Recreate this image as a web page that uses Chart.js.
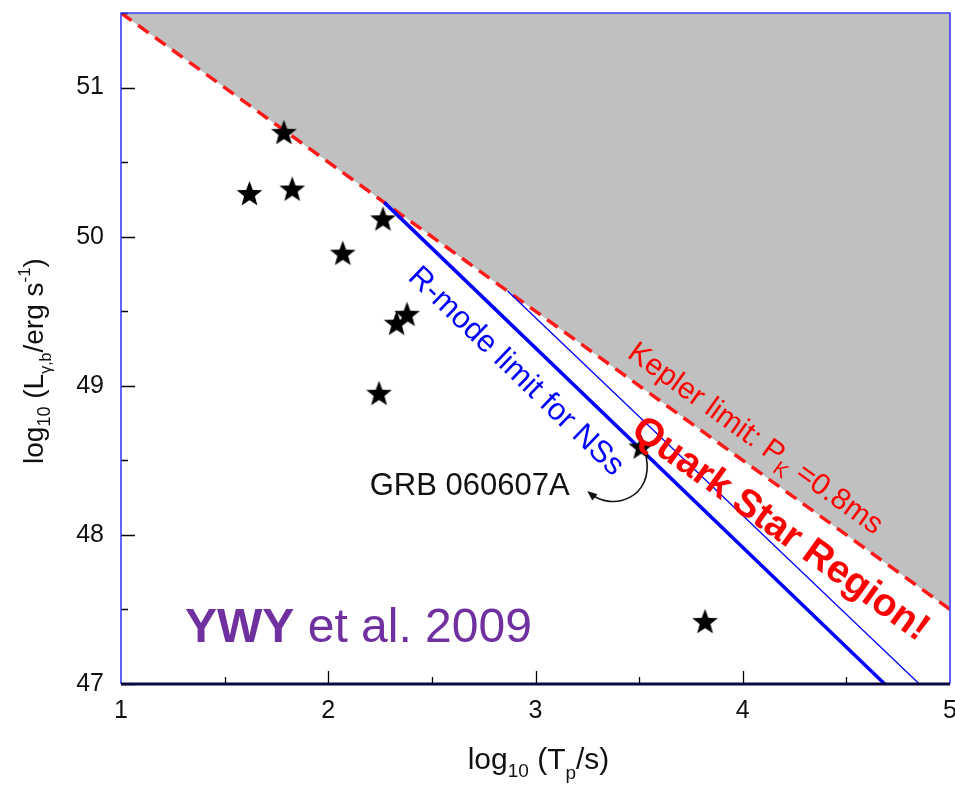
<!DOCTYPE html>
<html>
<head>
<meta charset="utf-8">
<title>Quark star region</title>
<script src="https://cdn.jsdelivr.net/npm/chart.js@4/dist/chart.umd.min.js"></script>
<style>
  html, body { margin: 0; padding: 0; background: #fff; overflow: hidden; }
  #chart { display: block; }
</style>
</head>
<body>
<canvas id="chart" width="955" height="786"></canvas>
<script>
// GRB points (log10 Tp, log10 L)
const starX = [1.62, 1.786, 1.826, 2.07, 2.264, 2.38, 2.33, 2.245, 3.51, 3.818];
const starY = [50.29, 50.70, 50.32, 49.89, 50.12, 49.48, 49.42, 48.95, 48.59, 47.42];

// Kepler limit P_K = 0.8 ms
const keplerX = [1, 5];
const keplerY = [51.5, 47.5];

// R-mode limits for NSs (thick and thin)
const rmodeX = [2.27, 4.685];
const rmodeY = [50.23, 47];
const rmodeThinX = [2.865, 4.852];
const rmodeThinY = [49.635, 47];

const xTicks = [1, 2, 3, 4, 5];
const yTicks = [47, 48, 49, 50, 51];

const FONT = '"Liberation Sans", Arial, sans-serif';

const pts = (xs, ys) => xs.map((x, i) => ({ x: x, y: ys[i] }));

// filled five point star used as the marker
function makeStar(r) {
    const c = document.createElement('canvas');
    c.width = c.height = Math.ceil(r * 2 + 2);
    const g = c.getContext('2d');
    const cx = c.width / 2, cy = c.height / 2 + 1;
    g.beginPath();
    for (let i = 0; i < 10; i++) {
        const rr = i % 2 === 0 ? r : r * 0.42;
        const a = -Math.PI / 2 + i * Math.PI / 5;
        g.lineTo(cx + rr * Math.cos(a), cy + rr * Math.sin(a));
    }
    g.closePath();
    g.fillStyle = '#000';
    g.fill();
    return c;
}

// draw text made of pieces (subscripts etc.), rotated around (x, y)
function drawRich(ctx, parts, x, y, angle, align, color) {
    ctx.save();
    ctx.translate(x, y);
    ctx.rotate(angle);
    ctx.fillStyle = color;
    ctx.textBaseline = 'alphabetic';
    let w = 0;
    parts.forEach(p => {
        ctx.font = (p.bold ? 'bold ' : '') + p.size + 'px ' + FONT;
        p.w = ctx.measureText(p.t).width;
        w += p.w;
    });
    let cx = align === 'center' ? -w / 2 : 0;
    parts.forEach(p => {
        ctx.font = (p.bold ? 'bold ' : '') + p.size + 'px ' + FONT;
        ctx.fillText(p.t, cx, p.dy || 0);
        cx += p.w;
    });
    ctx.restore();
}

const decor = {
    id: 'decor',
    afterDatasetsDraw(chart) {
        const ctx = chart.ctx;
        const X = chart.scales.x, Y = chart.scales.y;
        const px = v => X.getPixelForValue(v);
        const py = v => Y.getPixelForValue(v);
        const ang = (xs, ys) => Math.atan2(py(ys[1]) - py(ys[0]), px(xs[1]) - px(xs[0]));

        // R-mode label
        drawRich(ctx, [{ t: 'R-mode limit for NSs', size: 31, dy: 11 }],
            px(2.913), py(49.107), ang(rmodeX, rmodeY), 'center', '#0000ff');

        // Kepler label
        drawRich(ctx, [
            { t: 'Kepler limit: P', size: 30, dy: 10 },
            { t: 'K', size: 20, dy: 18 },
            { t: ' =0.8ms', size: 30, dy: 10 }
        ], px(4.064), py(48.651), ang(keplerX, keplerY), 'center', '#ff0000');

        // Quark star region
        drawRich(ctx, [{ t: 'Quark Star Region!', size: 39, bold: true, dy: 14 }],
            px(4.189), py(48.054), ang(keplerX, keplerY), 'center', '#ff0000');

        // GRB 060607A with curved arrow
        drawRich(ctx, [{ t: 'GRB 060607A', size: 31 }], px(2.2), py(48.268), 0, 'left', '#111');
        const sx = px(starX[8]), sy = py(starY[8]);
        ctx.save();
        ctx.strokeStyle = '#111';
        ctx.lineWidth = 1.6;
        ctx.beginPath();
        ctx.moveTo(sx + 5, sy + 10);
        ctx.bezierCurveTo(sx + 13, sy + 50, sx - 28, sy + 66, sx - 52, sy + 46);
        ctx.stroke();
        ctx.translate(sx - 54, sy + 44);
        ctx.rotate(Math.atan2(-20, -24));
        ctx.beginPath();
        ctx.moveTo(0, 0);
        ctx.lineTo(-10, -4);
        ctx.lineTo(-10, 4);
        ctx.closePath();
        ctx.fillStyle = '#111';
        ctx.fill();
        ctx.restore();

        // YWY et al. 2009
        drawRich(ctx, [
            { t: 'YWY', size: 48, bold: true },
            { t: ' et al. 2009', size: 48 }
        ], px(1.309), py(47.282), 0, 'left', '#7030a0');
    },
    afterDraw(chart) {
        const ctx = chart.ctx;
        const a = chart.chartArea;
        const X = chart.scales.x, Y = chart.scales.y;
        ctx.save();
        // inward ticks
        ctx.strokeStyle = '#000';
        ctx.lineWidth = 1.3;
        ctx.beginPath();
        for (let v = 47; v <= 51.5; v += 0.5) {
            const y = Math.round(Y.getPixelForValue(v)) + 0.5;
            const len = Number.isInteger(v) ? 14 : 7;
            ctx.moveTo(a.left, y);
            ctx.lineTo(a.left + len, y);
        }
        for (let v = 1.5; v < 5; v += 0.5) {
            const x = Math.round(X.getPixelForValue(v)) + 0.5;
            const len = Number.isInteger(v) ? 13 : 7;
            ctx.moveTo(x, a.bottom);
            ctx.lineTo(x, a.bottom - len);
        }
        ctx.stroke();

        // tick labels
        ctx.fillStyle = '#111';
        ctx.font = '25px ' + FONT;
        ctx.textBaseline = 'middle';
        ctx.textAlign = 'center';
        xTicks.forEach(v => ctx.fillText(String(v), X.getPixelForValue(v), a.bottom + 27));
        ctx.textAlign = 'right';
        yTicks.forEach(v => ctx.fillText(String(v), a.left - 17, Y.getPixelForValue(v)));

        // frame: blue on three sides, dark bottom axis
        ctx.strokeStyle = '#3c3cff';
        ctx.lineWidth = 1.6;
        ctx.beginPath();
        ctx.moveTo(a.left, a.bottom);
        ctx.lineTo(a.left, a.top);
        ctx.lineTo(a.right, a.top);
        ctx.lineTo(a.right, a.bottom);
        ctx.stroke();
        ctx.strokeStyle = '#0a0a40';
        ctx.lineWidth = 3;
        ctx.beginPath();
        ctx.moveTo(a.left, a.bottom);
        ctx.lineTo(a.right, a.bottom);
        ctx.stroke();
        ctx.restore();

        // axis titles
        drawRich(ctx, [
            { t: 'log', size: 30 },
            { t: '10', size: 19, dy: 8 },
            { t: ' (T', size: 30 },
            { t: 'p', size: 19, dy: 10 },
            { t: '/s)', size: 30 }
        ], (a.left + a.right) / 2 + 3, 769, 0, 'center', '#111');

        drawRich(ctx, [
            { t: 'log', size: 28 },
            { t: '10', size: 18, dy: 7 },
            { t: ' (L', size: 28 },
            { t: '\u03b3,b', size: 16, dy: 8 },
            { t: '/erg s', size: 28 },
            { t: '-1', size: 17, dy: -13 },
            { t: ')', size: 28 }
        ], 43, 361, -Math.PI / 2, 'center', '#111');
    }
};

new Chart(document.getElementById('chart'), {
    type: 'scatter',
    data: {
        datasets: [
            {
                label: 'GRBs',
                data: pts(starX, starY),
                pointStyle: makeStar(13.5),
                pointRadius: 13,
                pointHoverRadius: 13,
                backgroundColor: '#000',
                borderColor: '#000'
            },
            {
                type: 'line',
                label: 'R-mode limit',
                data: pts(rmodeX, rmodeY),
                borderColor: '#0000ff',
                borderWidth: 3.5,
                pointRadius: 0,
                fill: false
            },
            {
                type: 'line',
                label: 'R-mode limit (thin)',
                data: pts(rmodeThinX, rmodeThinY),
                borderColor: '#0000ff',
                borderWidth: 1.3,
                pointRadius: 0,
                fill: false
            },
            {
                type: 'line',
                label: 'Kepler limit',
                data: pts(keplerX, keplerY),
                borderColor: '#ff1a1a',
                borderWidth: 3.5,
                borderDash: [13, 8],
                pointRadius: 0,
                fill: 'end',
                backgroundColor: '#c0c0c0'
            }
        ]
    },
    options: {
        responsive: false,
        animation: false,
        events: [],
        layout: {
            autoPadding: false,
            padding: { left: 121, right: 5, top: 13, bottom: 102 }
        },
        plugins: {
            legend: { display: false },
            tooltip: { enabled: false }
        },
        scales: {
            x: { type: 'linear', min: 1, max: 5, display: false },
            y: { type: 'linear', min: 47, max: 51.5, display: false }
        }
    },
    plugins: [decor]
});
</script>
</body>
</html>
